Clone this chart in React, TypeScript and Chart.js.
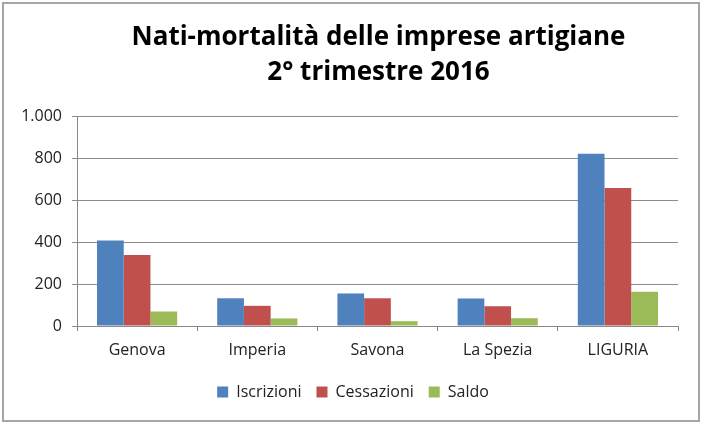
import React, { useEffect, useRef } from "react";
import { Chart, registerables } from "chart.js";

Chart.register(...registerables);

const categories = ["Genova", "Imperia", "Savona", "La Spezia", "LIGURIA"];
const iscrizioni = [407, 132, 155, 131, 820];
const cessazioni = [338, 96, 132, 94, 657];
const saldo = [69, 36, 23, 37, 163];
const titleLines = ["Nati-mortalità delle imprese artigiane", "2° trimestre 2016"];
const seriesNames = ["Iscrizioni", "Cessazioni", "Saldo"];

const FONT = "'Open Sans', Lato, sans-serif";

const titlePlugin = {
  id: "customTitle",
  afterLayout(chart: any) {
    if (chart.legend) {
      chart.legend.left += 14;
      chart.legend.right += 14;
    }
  },
  afterDraw(chart: any) {
    const { ctx, chartArea } = chart;
    const cx = (chartArea.left + chartArea.right) / 2;
    ctx.save();
    ctx.font = `bold 26px ${FONT}`;
    ctx.fillStyle = "#000";
    ctx.textAlign = "center";
    ctx.textBaseline = "middle";
    ctx.fillText(titleLines[0], cx + 1, 38);
    ctx.fillText(titleLines[1], cx + 1, 73);
    ctx.restore();
  },
};

export default function App() {
  const ref = useRef<HTMLCanvasElement>(null);
  useEffect(() => {
    document.body.style.margin = "0";
    const chart = new Chart(ref.current!, {
      type: "bar",
      data: {
        labels: categories,
        datasets: [
          { label: seriesNames[0], data: iscrizioni, backgroundColor: "#4F81BD" },
          { label: seriesNames[1], data: cessazioni, backgroundColor: "#C0504D" },
          { label: seriesNames[2], data: saldo, backgroundColor: "#9BBB59" },
        ],
      },
      options: {
        animation: false,
        responsive: false,
        maintainAspectRatio: false,
        layout: { padding: { top: 116, right: 24, bottom: 14, left: 0 } },
        datasets: { bar: { categoryPercentage: 0.667, barPercentage: 1 } },
        scales: {
          x: {
            afterFit: (s: any) => { s.height = 43; },
            grid: { drawOnChartArea: false, drawTicks: true, tickLength: 5, color: "#888", offset: true },
            border: { color: "#888" },
            ticks: { color: "#222", font: { family: FONT, size: 16 }, padding: 10 },
          },
          y: {
            min: 0,
            max: 1000,
            afterFit: (s: any) => { s.width = 77; },
            grid: { color: "#8c8c8c", tickLength: 5, drawTicks: true },
            border: { color: "#888" },
            ticks: {
              stepSize: 200,
              color: "#222",
              font: { family: FONT, size: 16 },
              padding: 10,
              callback: (v: any) => Number(v).toLocaleString("it-IT"),
            },
          },
        },
        plugins: {
          title: { display: false },
          tooltip: { enabled: false },
          legend: {
            position: "bottom",
            labels: {
              boxWidth: 11,
              boxHeight: 11,
              color: "#222",
              font: { family: FONT, size: 16 },
              padding: 15,
            },
          },
        },
      },
      plugins: [titlePlugin],
    });
    return () => chart.destroy();
  }, []);
  return (
    <div style={{ position: "relative", width: 702, height: 424 }}>
      <canvas ref={ref} width={702} height={424} style={{ display: "block" }} />
      <div
        style={{
          position: "absolute",
          left: 2,
          top: 2,
          width: 694,
          height: 416,
          border: "2px solid #a6a6a6",
          pointerEvents: "none",
        }}
      />
    </div>
  );
}
